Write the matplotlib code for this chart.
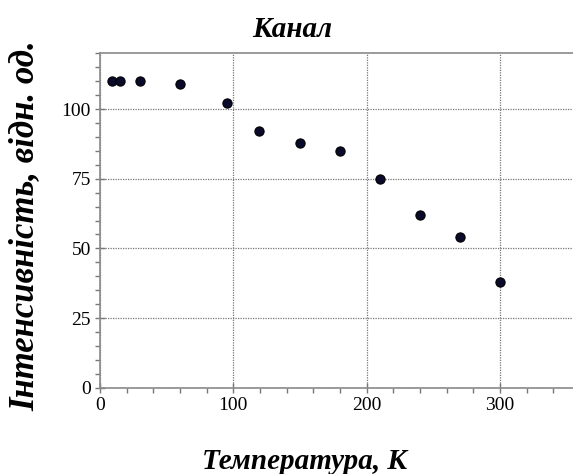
import matplotlib
matplotlib.use("Agg")
import matplotlib.pyplot as plt
from matplotlib.ticker import MultipleLocator

# --- Data ---
temperature = [9, 15, 30, 60, 95, 119, 150, 180, 210, 240, 270, 300]
intensity = [110, 110, 110, 109, 102, 92, 88, 85, 75, 62, 54, 38]

title = "Канал"
xlabel = "Температура, К"
ylabel = "Інтенсивність, відн. од."

plt.rcParams["font.family"] = ["Liberation Serif", "DejaVu Serif"]

fig = plt.figure(figsize=(5.73, 4.74), dpi=100)
ax = fig.add_axes([0.1745, 0.182, 0.8255, 0.7055])

ax.scatter(temperature, intensity, s=44, facecolor="#0a0a2a",
           edgecolor="black", linewidth=0.8, zorder=3, clip_on=False)

ax.set_xlim(0, 354.75)
ax.set_ylim(0, 120)
ax.xaxis.set_major_locator(MultipleLocator(100))
ax.xaxis.set_minor_locator(MultipleLocator(20))
ax.yaxis.set_major_locator(MultipleLocator(25))
ax.yaxis.set_minor_locator(MultipleLocator(5))

ax.grid(True, which="major", linestyle=(0, (1, 1)), color="#777777", linewidth=0.9)
for side in ("left", "bottom", "top"):
    ax.spines[side].set_color("#8a8a8a")
    ax.spines[side].set_linewidth(1.2)
ax.spines["right"].set_visible(False)

ax.tick_params(which="major", direction="inout", length=7, width=1,
               color="#777777", labelsize=14, pad=3)
ax.tick_params(which="minor", direction="out", length=3.5, width=1,
               color="#777777")

fig.text(0.51, 0.937, title, ha="center", va="center",
         fontsize=21, fontweight="bold", fontstyle="italic")
fig.text(0.532, 0.026, xlabel, ha="center", va="center",
         fontsize=21, fontweight="bold", fontstyle="italic")
fig.text(0.043, 0.525, ylabel, ha="center", va="center", rotation=90,
         fontsize=25, fontweight="bold", fontstyle="italic")

fig.savefig("out.png", dpi=100)
